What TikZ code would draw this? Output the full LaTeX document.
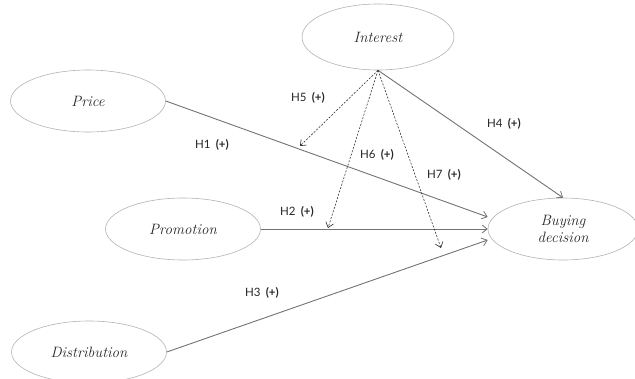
\documentclass[tikz,border=0pt]{standalone}
\usepackage{fontspec}
\newfontfamily\labfont{Lato}
\usetikzlibrary{shapes.geometric,arrows.meta}
\begin{document}
\begin{tikzpicture}[x=1pt,y=-1pt,
  construct/.style={ellipse,draw=black!30,line width=0.6pt,inner sep=0pt,
    font=\fontsize{15}{17}\selectfont\itshape,text=black!85,align=center},
  solidarrow/.style={draw=black!55,line width=0.9pt,-{Straight Barb[length=5pt,width=8pt,line width=0.8pt]}},
  dasharrow/.style={draw=black!85,line width=0.55pt,dash pattern=on 2pt off 1.5pt,
    -{Straight Barb[length=5pt,width=8pt,line width=0.6pt,sep=0pt]}},
  hyp/.style={font=\labfont\fontsize{11.5}{13}\selectfont,text=black!85}]
\useasboundingbox (0,0) rectangle (635,378);
\node[construct,minimum width=152pt,minimum height=66pt] (interest) at (378,37) {Interest};
\node[construct,minimum width=155pt,minimum height=62pt] (price) at (88,101) {Price};
\node[construct,minimum width=155pt,minimum height=62pt] (promo) at (183,229) {Promotion};
\node[construct,minimum width=155pt,minimum height=62pt] (dist) at (89,352) {Distribution};
\node[construct,minimum width=150pt,minimum height=62pt] (buy) at (563,229) {Buying\\decision};
\coordinate (m5) at (300,146);
\coordinate (m6) at (328,228);
\coordinate (m7) at (441,248);
\draw[solidarrow] (price.east) -- ([yshift=12pt]buy.west);
\draw[solidarrow] (promo.east) -- (buy.west);
\draw[solidarrow] (dist.east) -- ([yshift=-11pt]buy.west);
\draw[solidarrow] (interest.south) -- (buy.north);
\draw[dasharrow] (interest.south) -- (m5);
\draw[dasharrow] (interest.south) -- (m6);
\draw[dasharrow] (interest.south) -- (m7);
\node[hyp] (h1) at (212,145) {H1\hspace{0.45em}\textbf{(+)}};
\node[hyp] (h2) at (297,212) {H2\hspace{0.45em}\textbf{(+)}};
\node[hyp] (h3) at (262,293) {H3\hspace{0.45em}\textbf{(+)}};
\node[hyp] (h4) at (504,124) {H4\hspace{0.45em}\textbf{(+)}};
\node[hyp] (h5) at (308,98) {H5\hspace{0.45em}\textbf{(+)}};
\node[hyp] (h6) at (377,155) {H6\hspace{0.45em}\textbf{(+)}};
\node[hyp] (h7) at (444,175) {H7\hspace{0.45em}\textbf{(+)}};
\end{tikzpicture}
\end{document}
